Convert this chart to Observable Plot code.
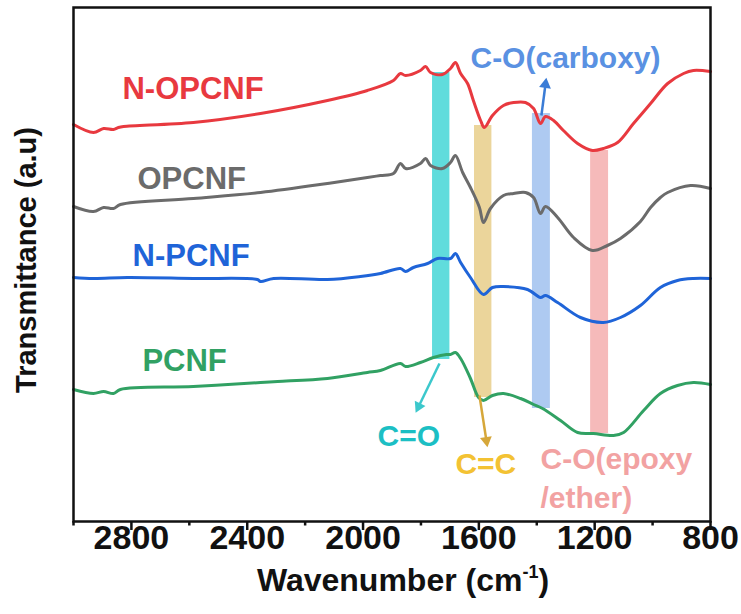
<!DOCTYPE html>
<html>
<head>
<meta charset="utf-8">
<script src="https://cdn.jsdelivr.net/npm/d3@7"></script>
<script src="https://cdn.jsdelivr.net/npm/@observablehq/plot@0.6"></script>
<style>
  html, body { margin: 0; padding: 0; background: #fff; }
  #chart svg { display: block; }
  #chart svg g[aria-label^="x-axis"] text {
    font-family: 'Liberation Sans', Arial, sans-serif;
    font-size: 34px;
    font-weight: bold;
  }
</style>
</head>
<body>
<div id="chart"></div>
<script>
// FTIR spectra, stacked with vertical offsets: [wavenumber (cm-1), transmittance (a.u.)]
const N_OPCNF = [
  [3000,79.4],[2931,77.8],[2896,78.6],[2862,78.4],[2845,78.8],[2827,79.0],[2586,79.8],
  [2354,81.6],[2123,84.2],[1985,86.2],[1895,88.2],[1871,89.6],[1853,89.2],[1802,90.2],
  [1784,91.0],[1767,89.8],[1726,89.4],[1698,90.6],[1681,91.8],[1663,89.6],[1639,87.6],
  [1619,84.2],[1594,80.2],[1581,78.8],[1553,81.2],[1515,83.2],[1480,83.8],[1439,83.8],
  [1411,82.6],[1387,79.6],[1370,81.0],[1342,80.2],[1308,78.2],[1259,75.6],[1208,74.2],
  [1170,74.6],[1121,75.8],[1066,79.6],[1007,83.6],[948,87.6],[893,89.6],[859,90.2],[800,90.0]
];
const OPCNF = [
  [3000,63.0],[2931,62.0],[2896,62.8],[2862,62.6],[2838,63.4],[2586,64.6],[2354,65.8],
  [2123,67.6],[1985,68.8],[1940,69.2],[1895,69.6],[1871,71.6],[1853,70.6],[1802,71.6],
  [1784,72.6],[1767,71.2],[1726,70.6],[1698,71.8],[1681,73.2],[1656,69.8],[1629,66.8],
  [1598,62.8],[1584,59.8],[1560,62.6],[1515,65.2],[1480,65.6],[1439,65.8],[1411,64.8],
  [1387,61.6],[1370,63.0],[1328,60.8],[1273,56.8],[1208,54.2],[1156,55.2],[1111,56.6],
  [1042,60.0],[1007,62.8],[973,64.8],[948,65.8],[869,67.2],[800,66.6]
];
const N_PCNF = [
  [3000,48.8],[2931,48.6],[2814,48.8],[2586,48.6],[2365,48.4],[2354,48.0],[2309,48.6],
  [2123,48.4],[2009,49.0],[1940,49.6],[1871,50.6],[1853,50.0],[1826,50.8],[1777,51.6],
  [1743,52.6],[1698,52.6],[1681,53.6],[1663,51.8],[1629,48.8],[1584,45.4],[1553,46.8],
  [1515,47.0],[1432,46.4],[1387,44.8],[1370,45.2],[1328,43.8],[1249,40.8],[1170,39.8],
  [1111,40.8],[1042,43.2],[973,46.8],[914,48.2],[859,48.6],[800,48.6]
];
const PCNF = [
  [3000,26.4],[2931,25.6],[2896,26.0],[2862,25.6],[2838,26.4],[2586,27.0],[2354,27.8],
  [2295,28.0],[2123,28.6],[1985,29.8],[1940,30.2],[1871,31.6],[1853,31.0],[1802,31.8],
  [1757,32.8],[1712,33.4],[1698,33.4],[1681,33.8],[1663,32.6],[1629,28.6],[1601,24.8],
  [1584,24.2],[1553,25.2],[1515,25.6],[1456,24.6],[1411,23.4],[1380,22.6],[1318,20.2],
  [1259,17.8],[1204,17.6],[1135,17.2],[1100,17.8],[1031,22.2],[973,25.6],[914,27.2],
  [859,27.8],[800,27.4]
];

const seriesNames  = ["N-OPCNF", "OPCNF", "N-PCNF", "PCNF"];
const seriesColors = ["#e8393f", "#6b6b6b", "#1f64d8", "#31a163"];
const seriesData   = [N_OPCNF, OPCNF, N_PCNF, PCNF];

// Sample name labels: [x start (cm-1), baseline (a.u.)]
const seriesLabelPos = [[2831,84.6],[2779,66.6],[2796,51.2],[2762,30.2]];

// Highlighted absorption bands: [from, to] in cm-1, vertical extent in a.u.
const bandNames  = ["C=O", "C=C", "C-O(carboxy)", "C-O(epoxy/ether)"];
const bandX      = [[1760,1700],[1615,1555],[1415,1353],[1214,1152]];
const bandY      = [[32.4,89.8],[24.8,79.2],[22.6,81.6],[17.6,74.2]];
const bandFills  = ["#60dcdc", "#ebd59b", "#aecaf1", "#f6baba"];

// Band annotation texts: [text, x start, baseline, color]
const noteText   = ["C-O(carboxy)", "C=O", "C=C", "C-O(epoxy", "/ether)"];
const noteX      = [1629, 1950, 1681, 1387, 1387];
const noteY      = [90.8, 15.2, 9.6, 10.6, 2.8];
const noteColors = ["#5a91e2", "#1cbfc4", "#f3c233", "#f2a2a2", "#f2a2a2"];

// Pointer arrows: tail and head positions
const arrowFrom   = [[1384,81.2],[1736,31.6],[1598,25.2]];
const arrowTo     = [[1370,87.4],[1808,23.0],[1574,16.2]];
const arrowColors = ["#3b7cd6", "#3cc8cc", "#d6a73a"];

// Wavenumber axis ticks
const majorTicks = [2800, 2400, 2000, 1600, 1200, 800];
const minorTicks = [3000, 2600, 2200, 1800, 1400, 1000];

const W = 741, H = 614;
const mL = 73, mR = 31, mT = 7, mB = 93;
const xDomain = [3000, 800];
const yDomain = [0, 102.8];

const lines = seriesData.flatMap((s, i) => s.map(([x, y]) => ({x, y, name: seriesNames[i]})));
const labels = seriesNames.map((name, i) => ({name, x: seriesLabelPos[i][0], y: seriesLabelPos[i][1], color: seriesColors[i]}));
const bands = bandNames.map((name, i) => ({name, x1: bandX[i][0], x2: bandX[i][1], y1: bandY[i][0], y2: bandY[i][1], fill: bandFills[i]}));
const notes = noteText.map((t, i) => ({t, x: noteX[i], y: noteY[i], color: noteColors[i]}));

// arrow heads are rotated triangles; their angle follows the screen direction
const sx = d3.scaleLinear(xDomain, [mL, W - mR]);
const sy = d3.scaleLinear(yDomain, [H - mB, mT]);
const arrows = arrowFrom.map((f, i) => {
  const t = arrowTo[i];
  const ang = Math.atan2(sx(t[0]) - sx(f[0]), -(sy(t[1]) - sy(f[1]))) * 180 / Math.PI;
  return {x1: f[0], y1: f[1], x2: t[0], y2: t[1], color: arrowColors[i], rotate: ang};
});

const chart = Plot.plot({
  width: W,
  height: H,
  marginLeft: mL,
  marginRight: mR,
  marginTop: mT,
  marginBottom: mB,
  style: {
    fontFamily: "'Liberation Sans', Arial, sans-serif",
    fontSize: "28px",
    fontWeight: "bold",
    color: "#111",
    background: "#fff"
  },
  x: {domain: xDomain, ticks: majorTicks, tickSize: 0, tickPadding: 3, tickFormat: d => String(d), label: null},
  y: {domain: yDomain, axis: null},
  color: {domain: seriesNames, range: seriesColors},
  marks: [
    Plot.rect(bands, {x1: "x1", x2: "x2", y1: "y1", y2: "y2", fill: d => d.fill}),
    Plot.line(lines, {x: "x", y: "y", z: "name", stroke: "name", strokeWidth: 3, curve: "catmull-rom"}),
    Plot.link(arrows, {x1: "x1", y1: "y1", x2: "x2", y2: "y2", stroke: d => d.color, strokeWidth: 2.5}),
    Plot.dot(arrows, {x: "x2", y: "y2", symbol: "triangle", r: 4.4, fill: d => d.color, stroke: "none", rotate: "rotate"}),
    Plot.text(labels, {x: "x", y: "y", text: "name", fill: d => d.color, fontSize: 31, fontWeight: "bold", textAnchor: "start", lineAnchor: "bottom"}),
    Plot.text(notes, {x: "x", y: "y", text: "t", fill: d => d.color, fontSize: 30, fontWeight: "bold", textAnchor: "start", lineAnchor: "bottom"}),
    Plot.ruleX(majorTicks, {x: d => d, y1: 0, y2: -1.8, stroke: "#111", strokeWidth: 2.5}),
    Plot.ruleX(minorTicks, {x: d => d, y1: 0, y2: -0.9, stroke: "#111", strokeWidth: 2.5}),
    Plot.frame({stroke: "#111", strokeWidth: 2.5})
  ]
});

const svg = d3.select(chart);
// Axis titles
const xt = svg.append("text")
  .attr("x", 403).attr("y", 591)
  .attr("text-anchor", "middle")
  .attr("font-family", "'Liberation Sans', Arial, sans-serif")
  .attr("font-size", 32).attr("font-weight", "bold").attr("fill", "#111");
xt.append("tspan").text("Wavenumber (cm");
xt.append("tspan").attr("font-size", 18).attr("dy", -13).text("-1");
xt.append("tspan").attr("dy", 13).text(")");

svg.append("text")
  .attr("transform", "translate(36,260) rotate(-90)")
  .attr("text-anchor", "middle")
  .attr("font-size", 29).attr("font-weight", "bold").attr("fill", "#111")
  .text("Transmittance (a.u)");

document.getElementById("chart").appendChild(chart);
</script>
</body>
</html>
